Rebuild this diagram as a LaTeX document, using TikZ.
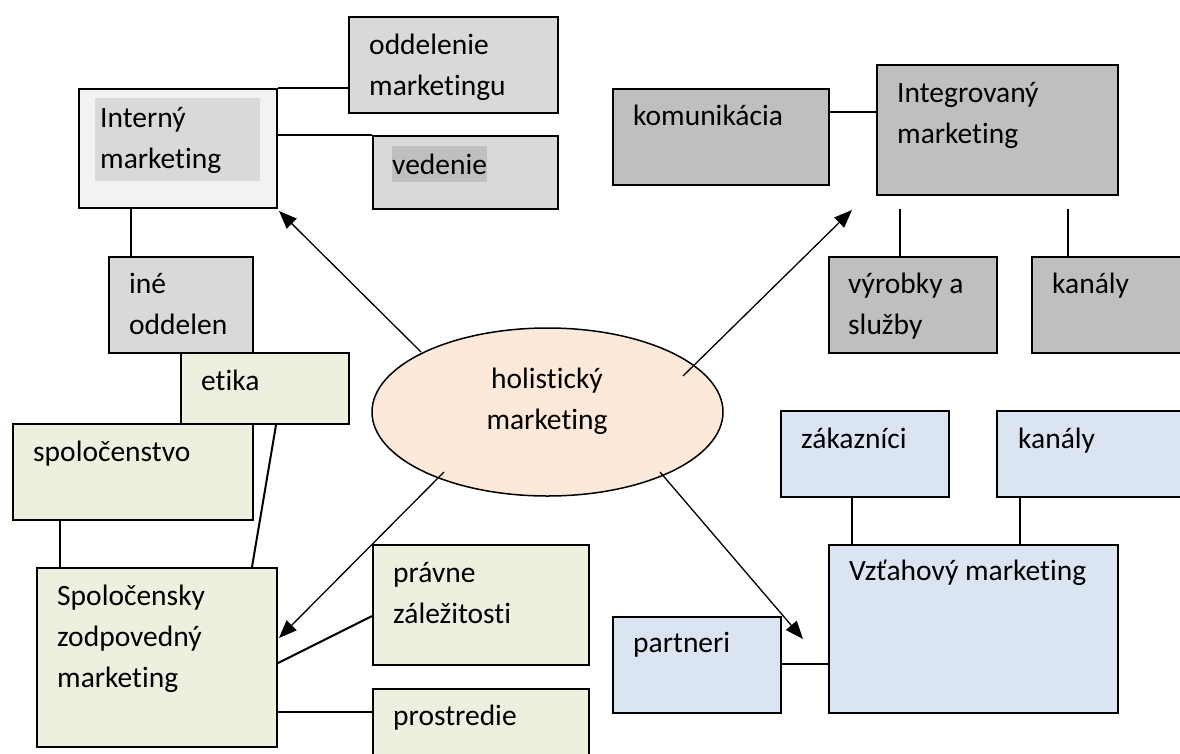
\documentclass[tikz,border=0pt]{standalone}
\usepackage{fontspec}
\setmainfont{Carlito}[Ligatures={NoCommon}]
\usetikzlibrary{shapes.geometric,arrows.meta,calc}
\definecolor{grayA}{HTML}{D9D9D9}
\definecolor{grayB}{HTML}{BFBFBF}
\definecolor{grayC}{HTML}{F2F2F2}
\definecolor{greenA}{HTML}{EBF1DE}
\definecolor{blueA}{HTML}{DBE5F1}
\definecolor{peachA}{HTML}{FDE9D9}
\newcommand{\fl}{\rule{0pt}{30pt}}
\begin{document}
\begin{tikzpicture}[x=1pt,y=-1pt,
  box/.style={draw=black, line width=2pt, rectangle, inner sep=0pt, anchor=north west},
  hl/.style={rectangle, inner sep=0pt, anchor=north west, draw=none},
  txt/.style={anchor=north west, inner sep=0pt, align=left, font=\fontsize{29.5}{41}\selectfont},
  conn/.style={line width=2pt},
  arr/.style={line width=1.3pt, -{Triangle[length=18pt,width=14pt]}}]
\useasboundingbox (0,0) rectangle (1180,753);
\clip (0,0) rectangle (1180,753);
\fill[white] (0,0) rectangle (1180,753);

% ---- Interny marketing group
\node[box, fill=grayA, minimum width=209pt, minimum height=96pt] (odd) at (348,16) {};
\node[box, fill=grayC, minimum width=198pt, minimum height=119pt] (intern) at (78,88) {};
\node[hl, fill=grayA, minimum width=165pt, minimum height=83pt] (internhl) at (95,98) {};
\node[box, fill=grayA, minimum width=185pt, minimum height=73pt] (ved) at (372,135) {};
\node[hl, fill=grayB, minimum width=95pt, minimum height=36pt] (vedhl) at (392,146) {};
\node[box, fill=grayA, minimum width=144pt, minimum height=96pt] (ine) at (108,256) {};

% ---- Spolocensky zodpovedny marketing group
\node[box, fill=greenA, minimum width=168pt, minimum height=71pt] (etika) at (180,352) {};
\node[box, fill=greenA, minimum width=240pt, minimum height=96pt] (spol) at (12,423) {};
\node[box, fill=greenA, minimum width=240pt, minimum height=179pt] (szm) at (36,567) {};
\node[box, fill=greenA, minimum width=216pt, minimum height=120pt] (pravne) at (372,544) {};
\node[box, fill=greenA, minimum width=216pt, minimum height=90pt] (prost) at (372,688) {};

% ---- Integrovany marketing group
\node[box, fill=grayB, minimum width=216pt, minimum height=96pt] (kom) at (612,88) {};
\node[box, fill=grayB, minimum width=241pt, minimum height=130pt] (integ) at (876,64) {};
\node[box, fill=grayB, minimum width=168pt, minimum height=96pt] (vyr) at (828,256) {};
\node[box, fill=grayB, minimum width=170pt, minimum height=96pt] (kanA) at (1031,256) {};

% ---- Vztahovy marketing group
\node[box, fill=blueA, minimum width=168pt, minimum height=86pt] (zak) at (780,410) {};
\node[box, fill=blueA, minimum width=200pt, minimum height=86pt] (kanB) at (996,410) {};
\node[box, fill=blueA, minimum width=289pt, minimum height=168pt] (vzt) at (828,544) {};
\node[box, fill=blueA, minimum width=168pt, minimum height=96pt] (partn) at (612,616) {};

% ---- centre
\node[ellipse, draw=black, line width=1.5pt, fill=peachA, minimum width=351pt, minimum height=168pt, inner sep=0pt] (ell) at (547.5,412) {};

% ---- texts
\node[txt] (oddt) at (369,24) {\fl oddelenie\\marketingu};
\node[txt] (internt) at (100,97) {\fl Interný\\marketing};
\node[txt] (vedt) at (392,144) {\fl vedenie};
\node[txt] (inet) at (129,263) {\fl iné\\oddelen};
\node[txt] (etikat) at (201,360) {\fl etika};
\node[txt] (spolt) at (33,431) {\fl spoločenstvo};
\node[txt] (szmt) at (57,575) {\fl Spoločensky\\zodpovedný\\marketing};
\node[txt] (pravnet) at (393,552) {\fl právne\\záležitosti};
\node[txt] (prostt) at (393,695) {\fl prostredie};
\node[txt] (komt) at (633,95) {\fl komunikácia};
\node[txt] (integt) at (897,72) {\fl Integrovaný\\marketing};
\node[txt] (vyrt) at (848,263) {\fl výrobky a\\služby};
\node[txt] (kanAt) at (1052,263) {\fl kanály};
\node[txt] (zakt) at (801,418) {\fl zákazníci};
\node[txt] (kanBt) at (1018,418) {\fl kanály};
\node[txt] (vztt) at (849,550) {\fl Vzťahový marketing};
\node[txt] (partnt) at (633,622) {\fl partneri};
\node[txt, anchor=north, align=center] (ellt) at (547,358) {\fl holistický\\marketing};

% ---- connectors
\draw[conn] (intern.north east) -- (intern.north east -| odd.west);
\draw[conn] (ved.north west -| intern.east) -- (ved.north west);
\draw[conn] ($(intern.south west)+(53,0)$) coordinate (ia) -- (ia |- ine.north);
\draw[conn] ($(etika.south west)+(96,0)$) -- ($(szm.north west)+(216,0)$);
\draw[conn] ($(spol.south west)+(48,0)$) coordinate (sa) -- (sa |- szm.north);
\draw[conn] ($(szm.north east)+(0,96)$) -- ($(pravne.north west)+(0,72)$);
\draw[conn] ($(szm.north east)+(0,145)$) coordinate (sb) -- (sb -| prost.west);
\draw[conn] ($(kom.north east)+(0,24)$) coordinate (ka) -- (ka -| integ.west);
\coordinate (ib1) at ($(integ.south west)+(24,13)$);
\coordinate (ib2) at ($(integ.south west)+(192,13)$);
\draw[conn] (ib1) -- (ib1 |- vyr.north);
\draw[conn] (ib2) -- (ib2 |- kanA.north);
\draw[conn] ($(zak.south west)+(72,0)$) coordinate (za) -- (za |- vzt.north);
\draw[conn] ($(kanB.south west)+(24,0)$) coordinate (kb) -- (kb |- vzt.north);
\draw[conn] ($(partn.north east)+(0,48)$) coordinate (pa) -- (pa -| vzt.west);

% ---- arrows from the centre
\coordinate (t1) at ($(intern.south east)+(1,2)$);
\coordinate (t2) at ($(integ.south west)+(-24,14)$);
\coordinate (t3) at ($(szm.north east)+(1,71)$);
\coordinate (t4) at ($(vzt.north west)+(-25,95)$);
\draw[arr] ($(ell.center)+(-126.5,-60)$) -- (t1);
\draw[arr] ($(ell.center)+(135.5,-36)$) -- (t2);
\draw[arr] ($(ell.center)+(-103.5,60)$) -- (t3);
\draw[arr] ($(ell.center)+(112.5,60)$) -- (t4);
\end{tikzpicture}
\end{document}
